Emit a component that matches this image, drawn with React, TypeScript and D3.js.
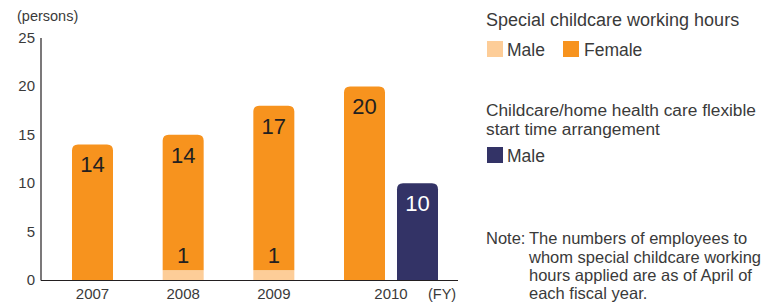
import React from "react";
import * as d3 from "d3";

const years = ["2007", "2008", "2009", "2010"];
const specialMale = [0, 1, 1, 0];
const specialFemale = [14, 14, 17, 20];
const flexibleMale = [null, null, null, 10];
const yTicks = [0, 5, 10, 15, 20, 25];

const C_MALE = "#fdcd98";
const C_FEMALE = "#f7931e";
const C_NAVY = "#333366";
const C_TEXT = "#3a3a3a";
const FONT = "'Liberation Sans', Arial, Helvetica, sans-serif";

function topRounded(x: number, y: number, w: number, h: number, r: number) {
  const rr = Math.min(r, h, w / 2);
  return `M${x},${y + h}V${y + rr}Q${x},${y} ${x + rr},${y}H${x + w - rr}Q${x + w},${y} ${x + w},${y + rr}V${y + h}Z`;
}

export default function App() {
  const W = 769, H = 302;
  const y = d3.scaleLinear().domain([0, 25]).range([280, 38]);
  const x = d3.scalePoint<string>().domain(years).range([92.5, 364.5]);
  const barW = 41;
  const navyOffset = 53;

  return (
    <div style={{ position: "absolute", left: 0, top: 0 }}>
      <svg width={W} height={H} style={{ display: "block", fontFamily: FONT }}>
        <rect width={W} height={H} fill="#fff" />
        <text x={17} y={21} fontSize={14.5} fill={C_TEXT}>(persons)</text>
        {yTicks.map((t) => (
          <text key={t} x={35} y={y(t) + 5} fontSize={15} fill={C_TEXT} textAnchor="end">{t}</text>
        ))}
        {years.map((yr, i) => {
          const cx = x(yr)!;
          const m = specialMale[i];
          const f = specialFemale[i];
          const x0 = cx - barW / 2;
          const mTop = y(m);
          const fTop = y(m + f);
          return (
            <g key={yr}>
              {m > 0 && <rect x={x0} y={mTop} width={barW} height={y(0) - mTop} fill={C_MALE} />}
              <path d={topRounded(x0, fTop, barW, mTop - fTop, 6)} fill={C_FEMALE} />
              <text x={cx} y={fTop + 28} fontSize={22} fill="#231f20" textAnchor="middle">{f}</text>
              {m > 0 && <text x={cx} y={mTop - 7} fontSize={22} fill="#231f20" textAnchor="middle">{m}</text>}
              {flexibleMale[i] != null && (
                <g>
                  <path d={topRounded(cx + navyOffset - barW / 2, y(flexibleMale[i] as number), barW, y(0) - y(flexibleMale[i] as number), 6)} fill={C_NAVY} />
                  <text x={cx + navyOffset} y={y(flexibleMale[i] as number) + 28} fontSize={22} fill="#fff" textAnchor="middle">{flexibleMale[i]}</text>
                </g>
              )}
              <text x={flexibleMale[i] != null ? cx + navyOffset / 2 : cx} y={299} fontSize={15} fill={C_TEXT} textAnchor="middle">{yr}</text>
            </g>
          );
        })}
        <text x={428} y={299} fontSize={14.5} fill={C_TEXT}>(FY)</text>
        <line x1={41} x2={41} y1={38} y2={280.5} stroke="#231f20" strokeWidth={1.2} />
        <line x1={41} x2={458} y1={280.5} y2={280.5} stroke="#231f20" strokeWidth={1.2} />

        <text x={486} y={26} fontSize={18} fill={C_TEXT}>Special childcare working hours</text>
        <rect x={487} y={41} width={16} height={16} fill={C_MALE} />
        <text x={507} y={56} fontSize={17.5} fill={C_TEXT}>Male</text>
        <rect x={563} y={41} width={16} height={16} fill={C_FEMALE} />
        <text x={584} y={56} fontSize={17.5} fill={C_TEXT}>Female</text>

        <text x={486} y={116} fontSize={17.3} fill={C_TEXT}>Childcare/home health care flexible</text>
        <text x={486} y={135} fontSize={17.3} fill={C_TEXT}>start time arrangement</text>
        <rect x={487} y={147} width={16} height={16} fill={C_NAVY} />
        <text x={507} y={162} fontSize={17.5} fill={C_TEXT}>Male</text>

        <text x={486} y={244} fontSize={16.5} fill={C_TEXT}>Note:</text>
        <text x={529} y={244} fontSize={16.5} fill={C_TEXT}>The numbers of employees to</text>
        <text x={529} y={262.5} fontSize={16.5} fill={C_TEXT}>whom special childcare working</text>
        <text x={529} y={281} fontSize={16.5} fill={C_TEXT}>hours applied are as of April of</text>
        <text x={529} y={299} fontSize={16.5} fill={C_TEXT}>each fiscal year.</text>
      </svg>
    </div>
  );
}
